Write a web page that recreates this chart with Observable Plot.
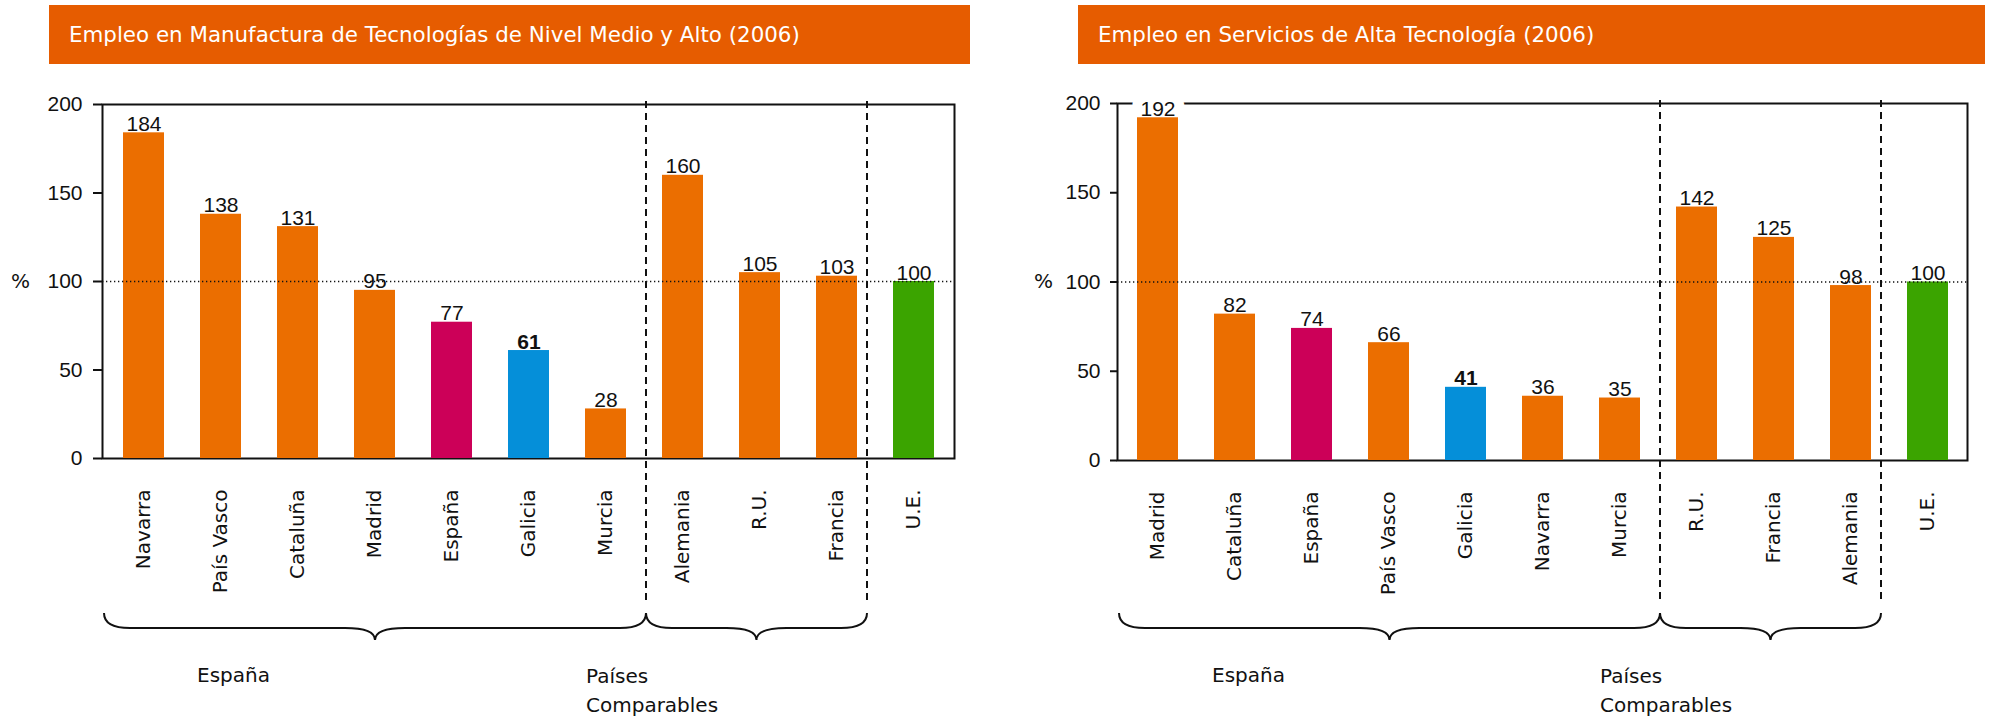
<!DOCTYPE html>
<html>
<head>
<meta charset="utf-8">
<script src="https://cdn.jsdelivr.net/npm/d3@7"></script>
<script src="https://cdn.jsdelivr.net/npm/@observablehq/plot@0.6"></script>
<style>
  html, body { margin: 0; padding: 0; background: white; }
  #root { position: relative; width: 1990px; height: 717px; overflow: hidden; }
  .panel { position: absolute; top: 0; width: 995px; height: 717px; }
  .title { position: absolute; top: 5px; height: 59px; background: #E65C00; color: white;
           font-family: 'DejaVu Sans', Verdana, sans-serif; font-size: 21.4px; line-height: 59px;
           padding-left: 20px; box-sizing: border-box; white-space: nowrap; }
  .chart { position: absolute; left: 0; top: 70px; }
</style>
</head>
<body>
<div id="root"></div>
<script>
// ---- data ----
const titles = [
  "Empleo en Manufactura de Tecnologías de Nivel Medio y Alto (2006)",
  "Empleo en Servicios de Alta Tecnología (2006)"
];
const categories1 = ["Navarra", "País Vasco", "Cataluña", "Madrid", "España", "Galicia", "Murcia", "Alemania", "R.U.", "Francia", "U.E."];
const values1 = [184, 138, 131, 95, 77, 61, 28, 160, 105, 103, 100];
const categories2 = ["Madrid", "Cataluña", "España", "País Vasco", "Galicia", "Navarra", "Murcia", "R.U.", "Francia", "Alemania", "U.E."];
const values2 = [192, 82, 74, 66, 41, 36, 35, 142, 125, 98, 100];
const yTicks = [0, 50, 100, 150, 200];
const referenceLevel = [100];
const groupLabels = ["España", "Países|Comparables"];
const yUnit = "%";
const boldCategory = "Galicia";

// colours
const ORANGE = "#EB6E00";
const highlight = { "España": "#CC0058", "Galicia": "#058FD9", "U.E.": "#3BA400" };
const colorOf = name => highlight[name] || ORANGE;

const FONT = "'DejaVu Sans', Verdana, sans-serif";
const NUMFONT = "'Liberation Sans', Arial, sans-serif";
const W = 995, H = 647;

function makeChart(cfg) {
  const data = cfg.cats.map((name, i) => ({ name, value: cfg.vals[i] }));
  const maxV = d3.max(cfg.vals);
  const valueLabel = {
    x: "name", y: "value", text: d => String(d.value),
    lineAnchor: "bottom", dy: -2, fontSize: 21, fontFamily: NUMFONT, fill: "#111"
  };
  const plot = Plot.plot({
    width: W, height: H,
    marginLeft: cfg.mL, marginRight: cfg.mR, marginTop: cfg.mT, marginBottom: cfg.mB,
    style: { fontFamily: FONT, fontSize: "19px", color: "#111", background: "white", overflow: "visible" },
    x: { domain: cfg.cats, paddingInner: 0.47, paddingOuter: 0.235, align: 0.5, axis: null },
    y: { domain: [0, 200], axis: null },
    color: { type: "identity" },
    marks: [
      Plot.frame({ stroke: "#111", strokeWidth: 2 }),
      Plot.text(data.filter(d => d.value === maxV), { ...valueLabel, stroke: "white", strokeWidth: 20, fill: "white" }),
      Plot.barY(data, { x: "name", y: "value", fill: d => colorOf(d.name) }),
      Plot.ruleY(referenceLevel, { stroke: "#111", strokeWidth: 1.3, strokeDasharray: "1.3,2.7" }),
      Plot.axisY({ ticks: yTicks, tickSize: cfg.tickSize, tickPadding: cfg.tickPad, strokeWidth: 2,
                   label: null, fontSize: 21, fontFamily: NUMFONT }),
      Plot.text([yUnit], { frameAnchor: "left", dx: cfg.pctDx, textAnchor: "middle", fontSize: 20, fill: "#111" }),
      Plot.text(data.filter(d => d.name !== boldCategory), valueLabel),
      Plot.text(data.filter(d => d.name === boldCategory), { ...valueLabel, fontWeight: "bold" }),
      Plot.text(data, { x: "name", text: "name", frameAnchor: "bottom", dy: 31, rotate: -90,
                        textAnchor: "end", lineAnchor: "middle", fontSize: 20, fill: "#111" })
    ]
  });

  // ---- annotations derived from the x scale ----
  const xs = plot.scale("x");
  const bw = xs.bandwidth;
  const start = c => xs.apply(c);
  const c = cfg.cats;
  const dash1 = (start(c[6]) + bw + start(c[7])) / 2 + 2;
  const dash2 = (start(c[9]) + bw + start(c[10])) / 2 - 8;
  const svg = d3.select(plot);
  const g = svg.append("g").attr("text-anchor", "start");
  [dash1, dash2].forEach(x => {
    g.append("line").attr("x1", x).attr("x2", x).attr("y1", cfg.mT - 3).attr("y2", 530)
      .attr("stroke", "#111").attr("stroke-width", 2).attr("stroke-dasharray", "7,5");
  });
  const y0 = 543, yh = 558, yt = 570;
  function brace(x1, x2) {
    const xm = (x1 + x2) / 2, r = 26, r2 = 30;
    return `M${x1},${y0} Q${x1},${yh} ${x1 + r},${yh} L${xm - r2},${yh} Q${xm},${yh} ${xm},${yt}` +
           ` Q${xm},${yh} ${xm + r2},${yh} L${x2 - r},${yh} Q${x2},${yh} ${x2},${y0}`;
  }
  g.append("path").attr("d", brace(cfg.mL + 2, dash1)).attr("fill", "none").attr("stroke", "#111").attr("stroke-width", 2);
  g.append("path").attr("d", brace(dash1, dash2)).attr("fill", "none").attr("stroke", "#111").attr("stroke-width", 2);

  g.append("text").attr("x", cfg.mL + 95).attr("y", 612)
    .attr("font-size", 20).attr("fill", "#111").text(groupLabels[0]);
  const t2 = g.append("text").attr("x", dash1 - 60).attr("y", 613).attr("font-size", 20).attr("fill", "#111");
  groupLabels[1].split("|").forEach((s, i) => {
    t2.append("tspan").attr("x", dash1 - 60).attr("dy", i === 0 ? 0 : 29).text(s);
  });
  return plot;
}

const root = document.getElementById("root");
const configs = [
  { cats: categories1, vals: values1, mL: 102, mR: 41, mT: 34, mB: 259, tickSize: 9, tickPad: 11, pctDx: -82,
    panelLeft: 0, titleLeft: 49, titleWidth: 921 },
  { cats: categories2, vals: values2, mL: 122, mR: 23, mT: 33, mB: 257, tickSize: 7, tickPad: 10, pctDx: -74,
    panelLeft: 995, titleLeft: 83, titleWidth: 907 }
];
configs.forEach((cfg, i) => {
  const panel = document.createElement("div");
  panel.className = "panel";
  panel.style.left = cfg.panelLeft + "px";
  const title = document.createElement("div");
  title.className = "title";
  title.style.left = cfg.titleLeft + "px";
  title.style.width = cfg.titleWidth + "px";
  title.textContent = titles[i];
  panel.appendChild(title);
  const chart = makeChart(cfg);
  chart.classList.add("chart");
  panel.appendChild(chart);
  root.appendChild(panel);
});
</script>
</body>
</html>
